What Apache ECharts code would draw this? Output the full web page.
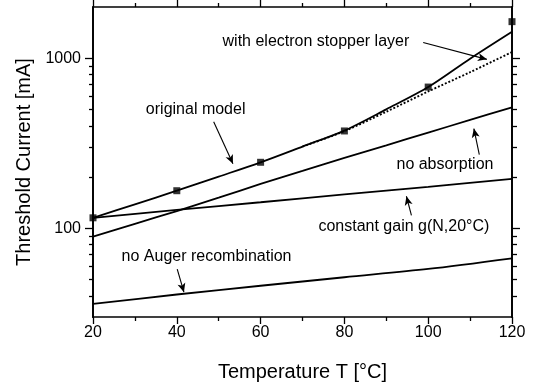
<!DOCTYPE html>
<html><head><meta charset="utf-8">
<script src="https://cdn.jsdelivr.net/npm/echarts@6/dist/echarts.min.js"></script>
<style>html,body{margin:0;padding:0;background:#fff}#c{width:536px;height:392px}</style>
</head><body><div id="c"></div>
<script>
// ---- data ----
var temps = [20, 30, 40, 50, 60, 70, 80, 90, 100, 110, 120];
var originalModel = [115, 138, 166, 201, 244, 302, 375, 500, 676, 993, 1430];
var noAbsorption = [89, 106, 126, 151, 182, 217, 259, 307, 365, 433, 514];
var stopperTemps = [70, 80, 90, 100, 110, 120];
var stopperLayer = [302, 372, 484, 637, 827, 1087];
var coarseTemps = [20, 40, 60, 80, 100, 120];
var constantGain = [115, 128, 142, 158, 175, 195];
var noAuger = [35.8, 40.7, 45.8, 51.4, 57.5, 66.4];
var measured = [115, 166, 244, 373, 676, 1640];
var xTicks = [20, 40, 60, 80, 100, 120];
var yMajorTicks = [100, 1000];
var yMinorTicks = [40, 50, 60, 70, 80, 90, 200, 300, 400, 500, 600, 700, 800, 900];
var labelTexts = ['original model', 'with electron stopper layer', 'no absorption', 'constant gain g(N,20°C)', 'no Auger recombination'];

function pairs(xs, ys) { return xs.map(function (x, i) { return [x, ys[i]]; }); }

var FONT = 'Liberation Sans, Arial, Helvetica, sans-serif';
var chart = echarts.init(document.getElementById('c'), null, { renderer: 'canvas' });

function yAxisDef(pos, ticks, len, showLabel, name) {
  return {
    type: 'log', position: pos, min: 30, max: 2000, logBase: 10,
    name: name || '', nameLocation: 'middle', nameGap: 50,
    nameTextStyle: { fontFamily: FONT, fontSize: 20, color: '#000' },
    axisLine: { show: true, lineStyle: { color: '#000', width: 1.7 } },
    axisTick: { show: true, inside: false, length: len, customValues: ticks, lineStyle: { color: '#000', width: 1.3 } },
    axisLabel: showLabel ? { show: true, customValues: yMajorTicks, margin: 12, fontFamily: FONT, fontSize: 16, color: '#000',
      formatter: function (v) { return String(Math.round(v)); } } : { show: false },
    splitLine: { show: false }, minorTick: { show: false }
  };
}
function xAxisDef(pos, showLabel, name) {
  return {
    type: 'value', position: pos, min: 20, max: 120, interval: 20,
    name: name || '', nameLocation: 'middle', nameGap: 45,
    nameTextStyle: { fontFamily: FONT, fontSize: 20, color: '#000' },
    axisLine: { show: true, onZero: false, lineStyle: { color: '#000', width: 1.7 } },
    axisTick: { show: true, inside: false, length: 7, lineStyle: { color: '#000', width: 1.3 } },
    minorTick: { show: true, splitNumber: 2, length: 4, lineStyle: { color: '#000', width: 1.3 } },
    axisLabel: showLabel ? { show: true, margin: 8, fontFamily: FONT, fontSize: 16, color: '#000', customValues: xTicks } : { show: false },
    splitLine: { show: false }, minorSplitLine: { show: false }
  };
}

function lineSeries(name, xs, ys, type) {
  return {
    name: name, type: 'line', data: pairs(xs, ys), xAxisIndex: 0, yAxisIndex: 0,
    showSymbol: false, symbol: 'none', smooth: 0.3,
    lineStyle: { color: '#000', width: type === 'dotted' ? 1.9 : 1.8, type: type || 'solid' },
    z: 3
  };
}

var annotCoords = [[44.5, 500], [73.2, 1247], [104, 237], [94.2, 102.6], [47.1, 68]];
var arrows = [
  [[48.8, 423], [53.4, 239]],
  [[98.8, 1236], [114, 984]],
  [[112.2, 271], [110.9, 385]],
  [[96, 119], [94.8, 154]],
  [[40.1, 57.4], [41.7, 42]]
];

var option = {
  animation: false,
  backgroundColor: '#fff',
  textStyle: { fontFamily: FONT },
  grid: { left: 93, right: 24, top: 7, bottom: 75, containLabel: false },
  xAxis: [xAxisDef('bottom', true, 'Temperature T [°C]'), xAxisDef('top', false)],
  yAxis: [
    yAxisDef('left', yMajorTicks, 8, true, 'Threshold Current [mA]'),
    yAxisDef('left', yMinorTicks, 4, false),
    yAxisDef('right', yMajorTicks, 8, false),
    yAxisDef('right', yMinorTicks, 5, false)
  ],
  series: [
    lineSeries('original model', temps, originalModel),
    lineSeries('with electron stopper layer', stopperTemps, stopperLayer, 'dotted'),
    lineSeries('no absorption', temps, noAbsorption),
    lineSeries('constant gain', coarseTemps, constantGain),
    lineSeries('no Auger recombination', coarseTemps, noAuger),
    {
      name: 'measured', type: 'scatter', data: pairs(coarseTemps, measured),
      symbol: 'rect', symbolSize: 7, itemStyle: { color: '#000' }, z: 5, clip: false
    },
    {
      name: 'annotations', type: 'line', data: [], xAxisIndex: 0, yAxisIndex: 0, silent: true,
      markPoint: {
        symbol: 'circle', symbolSize: 1, itemStyle: { color: 'rgba(0,0,0,0)' },
        label: { show: true, position: 'inside', formatter: '{b}', fontFamily: FONT, fontSize: 16, color: '#000' },
        data: labelTexts.map(function (t, i) { return { name: t, coord: annotCoords[i] }; })
      },
      markLine: {
        silent: true, symbol: ['none', 'arrow'], symbolSize: [6, 9],
        label: { show: false },
        lineStyle: { color: '#000', width: 1.1, type: 'solid' },
        emphasis: { disabled: true },
        data: arrows.map(function (a) { return [{ coord: a[0] }, { coord: a[1] }]; })
      }
    }
  ]
};
chart.setOption(option);
</script>
</body></html>
